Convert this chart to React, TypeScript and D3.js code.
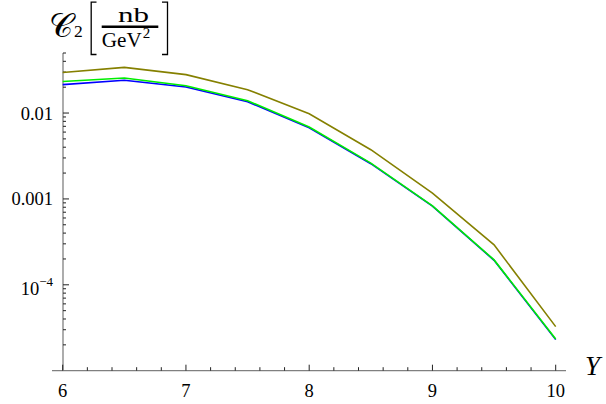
import React from "react";
import * as d3 from "d3";

const rapidity = [6, 6.5, 7, 7.5, 8, 8.5, 9, 9.5, 10];
const oliveSeries = [0.0297, 0.034, 0.028, 0.0187, 0.00982, 0.00374, 0.00117, 2.92e-4, 3.26e-5];
const blueSeries = [0.0214, 0.0241, 0.0201, 0.01355, 0.00674, 0.00257, 8.25e-4, 1.93e-4, 2.3e-5];
const greenSeries = [0.0233, 0.0256, 0.0208, 0.0139, 0.00687, 0.00261, 8.32e-4, 1.95e-4, 2.34e-5];

const xMajorTicks = [6, 7, 8, 9, 10];
const xTickLabels = ["6", "7", "8", "9", "10"];
const yMajorTicks = [0.01, 0.001, 1e-4];
const yTickLabels = ["0.01", "0.001", "10^-4"];

const W = 606;
const H = 404;

export default function App() {
  const x = d3.scaleLinear().domain([6, 10]).range([62.7, 555.7]);
  const y = d3.scaleLog().domain([1e-5, 0.05]).range([370.7, 53]);

  const line = d3
    .line<number>()
    .x((_, i) => x(rapidity[i]))
    .y((d) => y(d));

  const xMinor: number[] = [];
  for (let v = 6; v <= 10.001; v += 0.2) {
    const r = Math.round(v * 10) / 10;
    if (!xMajorTicks.includes(r)) xMinor.push(r);
  }
  const yMinor: number[] = [];
  for (let e = -5; e <= -2; e++) {
    for (let m = 2; m <= 9; m++) {
      const v = m * Math.pow(10, e);
      if (v <= 0.05) yMinor.push(v);
    }
  }

  const axisY = 370.7;
  const axisX = 63;
  const serif = "'Liberation Serif', 'DejaVu Serif', serif";
  const tickColor = "#222";

  return (
    <div style={{ position: "absolute", left: 0, top: 0 }}>
      <svg width={W} height={H} style={{ display: "block", background: "#fff" }}>
        {/* axes */}
        <line x1={52} x2={566} y1={axisY} y2={axisY} stroke="#808080" strokeWidth={1.3} />
        <line x1={axisX} x2={axisX} y1={53} y2={axisY} stroke="#808080" strokeWidth={1.3} />

        {/* x ticks */}
        {xMajorTicks.map((t, i) => (
          <g key={"xm" + t}>
            <line x1={x(t)} x2={x(t)} y1={axisY} y2={axisY - 6} stroke={tickColor} strokeWidth={1} />
            <text
              x={x(t)}
              y={396.5}
              textAnchor="middle"
              fontFamily={serif}
              fontSize={18.5}
              fill="#000"
            >
              {xTickLabels[i]}
            </text>
          </g>
        ))}
        {xMinor.map((t) => (
          <line key={"xn" + t} x1={x(t)} x2={x(t)} y1={axisY} y2={axisY - 3.5} stroke={tickColor} strokeWidth={1} />
        ))}

        {/* y ticks */}
        {yMajorTicks.map((t, i) => {
          const lab = yTickLabels[i];
          const isPow = lab.startsWith("10^");
          return (
            <g key={"ym" + t}>
              <line x1={axisX} x2={axisX + 6} y1={y(t)} y2={y(t)} stroke={tickColor} strokeWidth={1} />
              {isPow ? (
                <text x={53} y={y(t) + 10} textAnchor="end" fontFamily={serif} fontSize={18.5} fill="#000">
                  10
                  <tspan dy={-9} fontSize={13}>
                    {"\u2212" + lab.slice(4)}
                  </tspan>
                </text>
              ) : (
                <text x={53} y={y(t) + 6.5} textAnchor="end" fontFamily={serif} fontSize={18.5} fill="#000">
                  {lab}
                </text>
              )}
            </g>
          );
        })}
        {yMinor.map((t) => (
          <line key={"yn" + t} x1={axisX} x2={axisX + 3} y1={y(t)} y2={y(t)} stroke={tickColor} strokeWidth={1} />
        ))}

        {/* curves */}
        <path d={line(oliveSeries) || ""} fill="none" stroke="#858000" strokeWidth={1.6} />
        <path d={line(blueSeries) || ""} fill="none" stroke="#0000ff" strokeWidth={1.6} />
        <path d={line(greenSeries) || ""} fill="none" stroke="#00ee00" strokeWidth={1.6} />

        {/* axis label Y */}
        <text x={585} y={375} fontFamily={serif} fontStyle="italic" fontSize={27} fill="#000">
          Y
        </text>

        {/* top label C2 [nb / GeV^2] */}
        <text x={49} y={36.5} fontFamily={serif} fontSize={33} fill="#000">
          {"\uD835\uDC9E"}
        </text>
        <text x={74} y={36.7} fontFamily={serif} fontSize={17.5} fill="#000">
          2
        </text>
        <path d="M96.5,2.2 H91.2 V54.5 H96.5" fill="none" stroke="#000" strokeWidth={1.3} />
        <path d="M162,2.2 H167.5 V54.5 H162" fill="none" stroke="#000" strokeWidth={1.3} />
        <text x={118} y={21.7} fontFamily={serif} fontSize={20} textLength={31} lengthAdjust="spacingAndGlyphs" fill="#000">
          nb
        </text>
        <line x1={101.7} x2={158.3} y1={26.7} y2={26.7} stroke="#000" strokeWidth={2.4} />
        <text x={101.7} y={46.7} fontFamily={serif} fontSize={22} fill="#000">
          <tspan textLength={40} lengthAdjust="spacingAndGlyphs">GeV</tspan>
        </text>
        <text x={142.7} y={38.3} fontFamily={serif} fontSize={15} fill="#000">
          2
        </text>
      </svg>
    </div>
  );
}
